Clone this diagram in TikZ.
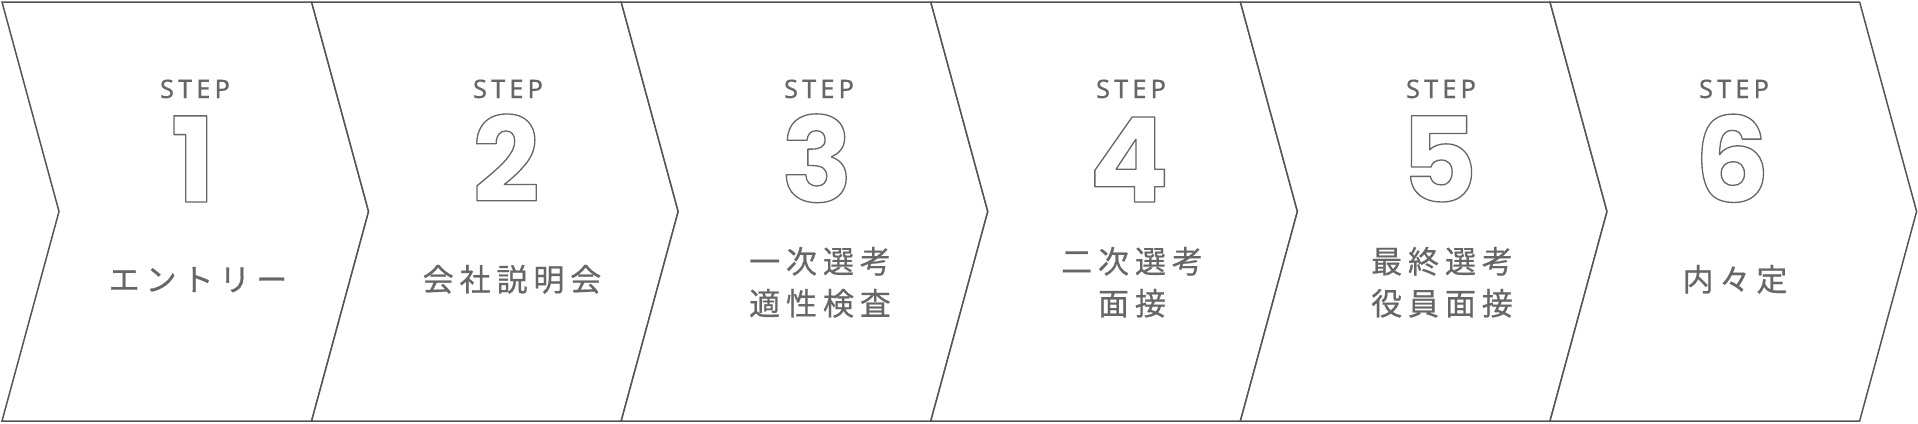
\documentclass[tikz,border=0pt]{standalone}
\usepackage{fontspec}
\setmainfont{Noto Sans}
\newfontfamily\jpfont[LetterSpace=19,FakeBold=0.6]{Noto Sans CJK JP}
\newfontfamily\stepfont[LetterSpace=16,FakeBold=0.4]{Noto Sans}
\newfontfamily\digfont{Poppins}
\definecolor{edge}{HTML}{555555}
\definecolor{txt}{HTML}{666666}
\newcommand\outlined[1]{\special{pdf:literal direct 1 Tr 1.3 w 1 j}#1\special{pdf:literal direct 0 Tr 0 j}}
\tikzset{
  chev/.style={draw=edge, line width=1.5pt, line join=miter, fill=white},
  steplbl/.style={anchor=base, inner sep=0pt, text=txt, font=\stepfont\fontsize{25.5}{28}\selectfont},
  numlbl/.style={anchor=base, inner sep=0pt, text=txt, font=\digfont\bfseries\fontsize{118}{130}\selectfont},
  jplbl/.style={anchor=base, inner sep=0pt, text=txt, font=\jpfont\fontsize{31}{36}\selectfont}
}
\begin{document}
\begin{tikzpicture}[x=1pt,y=-1pt]
\useasboundingbox (0,0) rectangle (1918,423);
\foreach \i in {0,...,5}{
  \pgfmathsetmacro\xa{2+\i*309.6}
  \draw[chev] (\xa,2) -- (\xa+309.6,2) -- (\xa+366.6,211.5) -- (\xa+309.6,421) -- (\xa,421) -- (\xa+57,211.5) -- cycle;
}
% step 1
\node[steplbl] (s1) at (195,98) {STEP};
\node[numlbl] (n1) at (193,202) {\outlined{1}};
\node[jplbl] (l1) at (198,291) {エントリー};
% step 2
\node[steplbl] (s2) at (508,98) {STEP};
\node[numlbl] (n2) at (506,202) {\outlined{2}};
\node[jplbl] (l2) at (512,291) {会社説明会};
% step 3
\node[steplbl] (s3) at (819,98) {STEP};
\node[numlbl] (n3) at (817,202) {\outlined{3}};
\node[jplbl] (l3a) at (820,273) {一次選考};
\node[jplbl] (l3b) at (820,315) {適性検査};
% step 4
\node[steplbl] (s4) at (1131,98) {STEP};
\node[numlbl] (n4) at (1129,202) {\outlined{4}};
\node[jplbl] (l4a) at (1132,273) {二次選考};
\node[jplbl] (l4b) at (1132,315) {面接};
% step 5
\node[steplbl] (s5) at (1441,98) {STEP};
\node[numlbl] (n5) at (1439,202) {\outlined{5}};
\node[jplbl] (l5a) at (1442,273) {最終選考};
\node[jplbl] (l5b) at (1442,315) {役員面接};
% step 6
\node[steplbl] (s6) at (1734,98) {STEP};
\node[numlbl] (n6) at (1732,202) {\outlined{6}};
\node[jplbl] (l6) at (1735,291) {内々定};
\end{tikzpicture}
\end{document}
